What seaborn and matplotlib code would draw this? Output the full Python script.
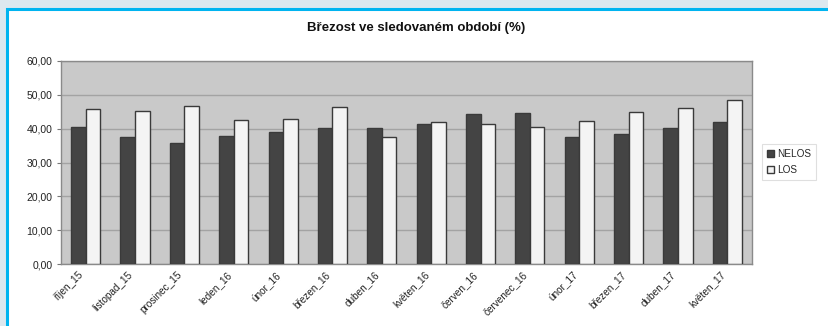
import matplotlib
matplotlib.use("Agg")
import matplotlib.pyplot as plt
from matplotlib.patches import Rectangle
import seaborn as sns
import pandas as pd
import numpy as np

months = ["říjen_15", "listopad_15", "prosinec_15", "leden_16", "únor_16",
          "březen_16", "duben_16", "květen_16", "červen_16", "červenec_16",
          "únor_17", "březen_17", "duben_17", "květen_17"]
nelos = [40.5, 37.4, 35.7, 37.8, 39.0, 40.3, 40.3, 41.4, 44.2, 44.5,
         37.4, 38.5, 40.3, 41.9]
los = [45.9, 45.2, 46.8, 42.5, 42.9, 46.4, 37.4, 42.1, 41.4, 40.6,
       42.2, 44.8, 46.2, 48.4]
series = ["NELOS", "LOS"]
yticks = [0, 10, 20, 30, 40, 50, 60]
title = "Březost ve sledovaném období (%)"

df = pd.DataFrame({
    "month": months * 2,
    "value": nelos + los,
    "series": [series[0]] * len(months) + [series[1]] * len(months),
})

sns.set_theme(style="white")
plt.rcParams["font.family"] = ["Liberation Sans", "DejaVu Sans"]

fig = plt.figure(figsize=(8.29, 3.26), dpi=100)
fig.patch.set_facecolor("#dce8ef")
W, H = 829, 326
# white panel with blue border (drawn in a background axes)
bg = fig.add_axes([0, 0, 1, 1], zorder=-10)
bg.set_axis_off()
bg.set_xlim(0, 1)
bg.set_ylim(0, 1)
bg.add_patch(Rectangle((7 / W, -0.1), 1.2, 1 - 9 / H + 0.1,
                       facecolor="white", edgecolor="#00b4f0", linewidth=2.2))

ax = fig.add_axes([61 / W, 1 - 264 / H, (752 - 61) / W, (264 - 61) / H])
ax.set_facecolor("#c9c9c9")

sns.barplot(data=df, x="month", y="value", hue="series", order=months,
            hue_order=series, palette=["#444444", "#f4f4f4"], width=0.59,
            gap=0, edgecolor="#3a3a3a", linewidth=1.0, ax=ax, zorder=3)

ax.set_ylim(0, 60)
ax.set_xlim(-0.5, len(months) - 0.5)
ax.set_yticks(yticks)
ax.set_yticklabels([f"{v:.2f}".replace(".", ",") for v in yticks],
                   fontsize=7.5, color="#222222")
ax.yaxis.grid(True, color="#a3a3a3", linewidth=1.0, zorder=1)
ax.set_axisbelow(True)
# labels anchored slightly left of each category centre, like the original
ax.set_xticks(np.arange(len(months)) - 0.15)
ax.set_xticklabels(months, rotation=45, ha="right", va="top",
                   rotation_mode="anchor", fontsize=7.2, color="#222222")
ax.tick_params(axis="y", length=3, width=0.8, color="#777777", pad=3, left=True)
ax.tick_params(axis="x", length=0, pad=4)
ax.set_xlabel("")
ax.set_ylabel("")
for s in ax.spines.values():
    s.set_color("#8a8a8a")
    s.set_linewidth(1.0)

ax.legend_.remove()
handles, labels = ax.get_legend_handles_labels()
leg = fig.legend(handles, labels, loc="center left",
                 bbox_to_anchor=(762 / W, 1 - 162 / H), fontsize=7.2,
                 frameon=True, fancybox=False, handlelength=0.7,
                 handleheight=0.7, handletextpad=0.3, borderpad=0.5,
                 labelspacing=0.6, borderaxespad=0)
leg.get_frame().set_edgecolor("#d8d8d8")
leg.get_frame().set_linewidth(0.8)

fig.text(416 / W, 1 - 28 / H, title, ha="center", va="center",
         fontsize=9.5, fontweight="bold", color="#111111")

fig.savefig("out.png", dpi=100, facecolor=fig.get_facecolor())
